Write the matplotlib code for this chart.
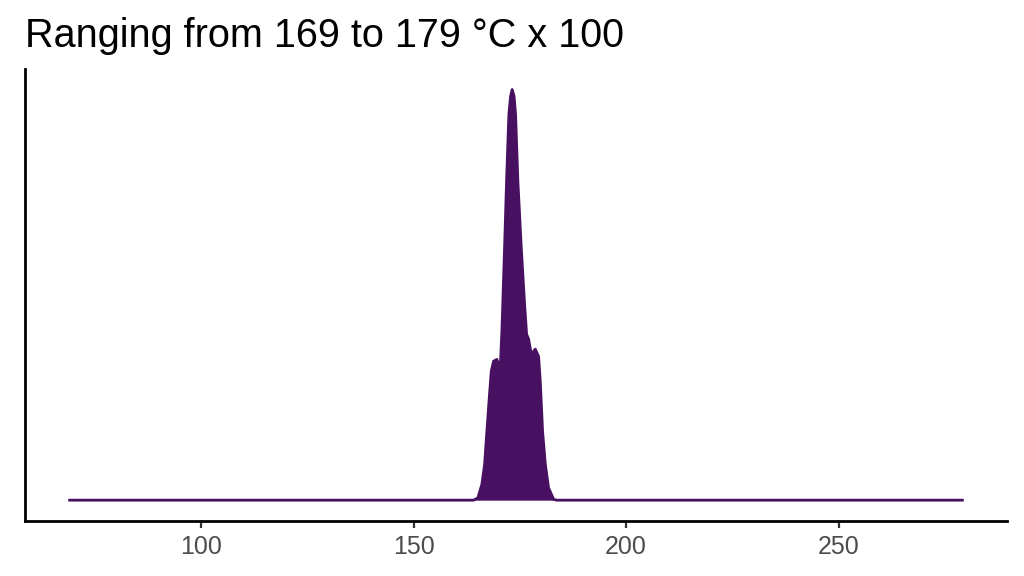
import numpy as np
import matplotlib.pyplot as plt

# density curve (temperature, density)
temp = [69.1, 164.1, 165.13, 166.07, 166.71, 167.25, 167.81, 168.28, 168.82,
        169.60, 170.40, 170.78, 171.41, 171.88, 172.42, 172.82, 173.2,
        173.65, 174.0, 174.54, 175.34, 176.12, 176.59, 177.06, 177.69,
        178.64, 179.41, 179.81, 180.35, 180.99, 181.76, 182.94, 183.6, 279.1]
density = [0, 0, 0.001, 0.0069, 0.0156, 0.0302, 0.0448, 0.0565, 0.0609,
           0.0617, 0.058, 0.074, 0.1106, 0.1398, 0.169, 0.177, 0.18,
           0.177, 0.169, 0.1398, 0.1106, 0.0859, 0.0728, 0.0706, 0.064,
           0.0662, 0.063, 0.052, 0.0302, 0.0158, 0.0054, 0.0004, 0, 0]
xticks = [100, 150, 200, 250]
title = 'Ranging from 169 to 179 °C x 100'

plt.rcParams['font.family'] = ['Liberation Sans', 'DejaVu Sans']

W, H = 1024, 576
fig = plt.figure(figsize=(W / 100, H / 100), dpi=100)
ax = fig.add_axes([25 / W, 1 - 520.7 / H, 982 / W, 451.7 / H])

col = '#481060'
ax.fill_between(temp, density, color=col, lw=0)
ax.plot(temp, density, color=col, lw=2)

span = temp[-1] - temp[0]
ax.set_xlim(temp[0] - 0.05 * span, temp[-1] + 0.05 * span)
ax.set_ylim(-0.05 * max(density), 1.05 * max(density))
ax.set_xticks(xticks)
ax.set_xticklabels([str(t) for t in xticks])
ax.set_yticks([])
ax.tick_params(axis='x', length=5, width=1.6, color='#333333',
               labelsize=18, labelcolor='#4D4D4D', pad=5.5)
for s in ['top', 'right']:
    ax.spines[s].set_visible(False)
for s in ['left', 'bottom']:
    ax.spines[s].set_linewidth(2)
    ax.spines[s].set_color('black')
    ax.spines[s].set_capstyle('projecting')

fig.text(25 / W, 1 - 47 / H, title, fontsize=28.5, ha='left', va='baseline')

fig.savefig('out.png', dpi=100)
